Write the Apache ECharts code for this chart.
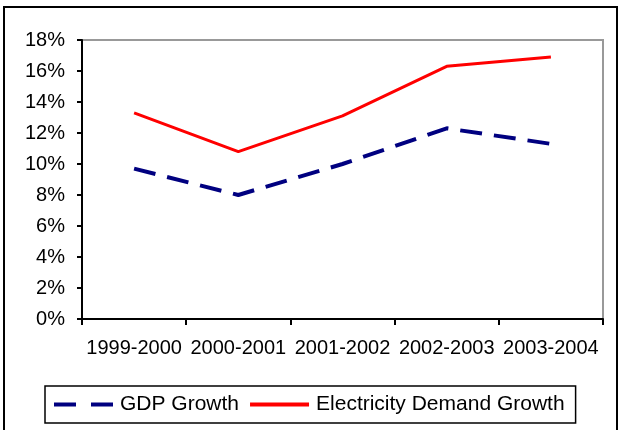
<!DOCTYPE html>
<html>
<head>
<meta charset="utf-8">
<script src="https://cdn.jsdelivr.net/npm/echarts@6/dist/echarts.min.js"></script>
<style>
  html, body { margin: 0; padding: 0; background: #fff; }
  #chart { width: 629px; height: 430px; }
</style>
</head>
<body>
<div id="chart"></div>
<script>
// data (percent)
const categories = ['1999-2000', '2000-2001', '2001-2002', '2002-2003', '2003-2004']
const gdpGrowth = [9.7, 8.0, 10.0, 12.3, 11.3]
const electricityGrowth = [13.3, 10.8, 13.1, 16.3, 16.9]
const seriesNames = ['GDP Growth', 'Electricity Demand Growth']

const font = 'Liberation Sans, Arial, sans-serif'
const chart = echarts.init(document.getElementById('chart'))

const option = {
  animation: false,
  // outer frame round the whole chart
  graphic: [{
    type: 'rect',
    shape: { x: 4, y: 7, width: 613, height: 440 },
    style: { fill: null, stroke: '#000', lineWidth: 2 },
    silent: true
  }],
  grid: {
    left: 82, right: 26, top: 40, bottom: 111,
    show: true,
    borderColor: '#999',
    borderWidth: 2,
    outerBoundsMode: 'none'
  },
  legend: {
    left: 45,
    top: 386,
    padding: [8, 11, 8, 9],
    borderColor: '#000',
    borderWidth: 1.5,
    itemWidth: 59,
    itemHeight: 4,
    itemGap: 11,
    textStyle: { fontFamily: font, fontSize: 21, color: '#000', padding: [0, 0, 0, 2] },
    data: [
      // dashed sample for GDP, solid bar for electricity
      { name: seriesNames[0], icon: 'path://M0,0h22v4h-22z M37,0h22v4h-22z' },
      { name: seriesNames[1], icon: 'rect' }
    ]
  },
  xAxis: {
    type: 'category',
    data: categories,
    axisLine: { lineStyle: { color: '#000', width: 2 } },
    axisTick: { show: true, length: 6, lineStyle: { color: '#000', width: 2 } },
    axisLabel: { fontFamily: font, fontSize: 20, color: '#000', margin: 19, interval: 0 }
  },
  yAxis: {
    type: 'value',
    min: 0,
    max: 18,
    interval: 2,
    splitLine: { show: false },
    axisLine: { show: true, lineStyle: { color: '#000', width: 2 } },
    axisTick: { show: true, length: 5, lineStyle: { color: '#000', width: 2 } },
    axisLabel: { fontFamily: font, fontSize: 20, color: '#000', margin: 17, formatter: '{value}%' }
  },
  series: [
    {
      name: seriesNames[0],
      type: 'line',
      data: gdpGrowth,
      symbol: 'none',
      color: '#000080',
      lineStyle: { color: '#000080', width: 4, type: [22, 12], cap: 'butt' }
    },
    {
      name: seriesNames[1],
      type: 'line',
      data: electricityGrowth,
      symbol: 'none',
      color: '#ff0000',
      lineStyle: { color: '#ff0000', width: 3 }
    }
  ]
}

chart.setOption(option)
</script>
</body>
</html>
